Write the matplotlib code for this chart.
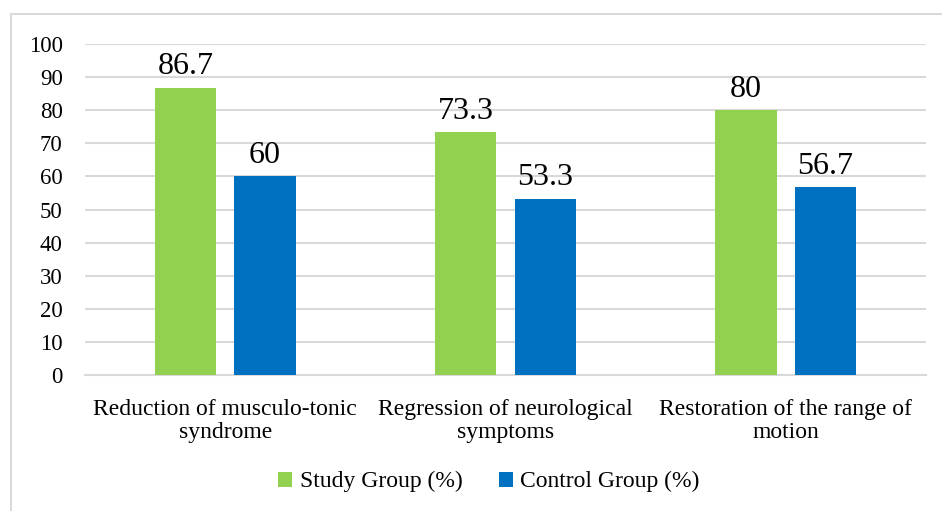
import matplotlib.pyplot as plt
import numpy as np
from matplotlib.lines import Line2D

# data
categories = ['Reduction of musculo-tonic\nsyndrome',
              'Regression of neurological\nsymptoms',
              'Restoration of the range of\nmotion']
study = [86.7, 73.3, 80]
control = [60, 53.3, 56.7]
labels = ['Study Group (%)', 'Control Group (%)']
yticks = [0, 10, 20, 30, 40, 50, 60, 70, 80, 90, 100]

plt.rcParams['font.family'] = ['Liberation Serif', 'DejaVu Serif']

fig = plt.figure(figsize=(9.42, 5.11), dpi=100)
ax = fig.add_axes([0.0902, 0.2661, 0.8928, 0.6478])

x = np.arange(len(categories))
w = 0.218
off = 0.142
b1 = ax.bar(x - off, study, w, color='#92D050', label=labels[0], zorder=3)
b2 = ax.bar(x + off, control, w, color='#0070C0', label=labels[1], zorder=3)

for bars, vals in ((b1, study), (b2, control)):
    for r, v in zip(bars, vals):
        ax.text(r.get_x() + r.get_width() / 2, v + 2.0, f'{v:g}',
                ha='center', va='bottom', fontsize=23, color='black')

ax.set_xlim(-0.5, 2.5)
ax.set_ylim(0, 100)
ax.set_yticks(yticks)
ax.set_xticks(x)
ax.set_xticklabels(categories, fontsize=17, linespacing=1.15)
ax.tick_params(axis='y', labelsize=16.5, length=0, pad=16)
ax.tick_params(axis='x', length=0, pad=17)
ax.grid(axis='y', color='#D9D9D9', linewidth=1.5, zorder=0)
for s in ['top', 'right', 'left']:
    ax.spines[s].set_visible(False)
ax.spines['bottom'].set_color('#D9D9D9')
ax.spines['bottom'].set_linewidth(1.5)

fig.legend(handles=[b1, b2], labels=labels, loc='center', bbox_to_anchor=(0.519, 0.057),
           ncol=2, frameon=False, fontsize=17, handlelength=0.6, handleheight=0.6,
           handletextpad=0.3, columnspacing=1.55)

# chart border (top and left visible)
fig.add_artist(Line2D([11 / 942, 1], [1 - 14.5 / 511] * 2, color='#D9D9D9', linewidth=1.5))
fig.add_artist(Line2D([11 / 942] * 2, [0, 1 - 14.5 / 511], color='#D9D9D9', linewidth=1.5))

fig.savefig('out.png', dpi=100)
